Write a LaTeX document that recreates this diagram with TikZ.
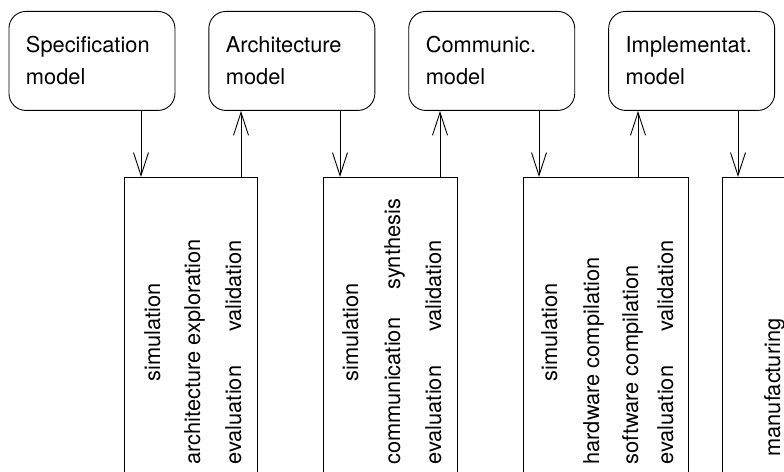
\documentclass[tikz,border=0pt]{standalone}
\usepackage{fontspec}
\setmainfont{TeX Gyre Heros}
\usetikzlibrary{arrows.meta,positioning}

\begin{document}
\begin{tikzpicture}[x=1bp,y=-1bp,node distance=33bp,>={Straight Barb[length=23bp,width=15bp]},line width=0.9bp,
model/.style={draw,rounded corners=17bp,align=left,text width=132bp,inner xsep=17bp,minimum height=99bp,font=\fontsize{21.9}{32}\selectfont},
stepbox/.style={draw,inner sep=0pt,minimum height=330bp,anchor=north west},
steptext/.style={rotate=90,anchor=base west,inner sep=0pt,font=\fontsize{21.9}{26}\selectfont}]
\useasboundingbox (0,0) rectangle (784,472);
\clip (0,0) rectangle (784,472);
\node[model,anchor=north west] (spec) at (8.5,11) {Specification\\model};
\node[model,right=of spec] (arch) {Architecture\\model};
\node[model,right=of arch] (comm) {Communic.\\model};
\node[model,right=of comm] (impl) {Implementat.\\model};
\node[stepbox,minimum width=133bp] (archstep) at (124,177) {};
\node[stepbox,minimum width=134bp] (commstep) at (323,177) {};
\node[stepbox,minimum width=165bp] (implstep) at (523,177) {};
\node[stepbox,minimum width=150bp] (mfgstep) at (722,177) {};
\node[steptext] (archsim) at (160,382) {simulation};
\node[steptext] (archexp) at (200,465) {architecture exploration};
\node[steptext] (archeval) at (241,465) {evaluation\hspace{34bp}validation};
\node[steptext] (commsim) at (358,382) {simulation};
\node[steptext] (commsyn) at (400,465) {communication\hspace{28bp}synthesis};
\node[steptext] (commeval) at (441,465) {evaluation\hspace{34bp}validation};
\node[steptext] (implsim) at (557,382) {simulation};
\node[steptext] (implhw) at (599,465) {hardware compilation};
\node[steptext] (implsw) at (638,465) {software compilation};
\node[steptext] (impleval) at (673,465) {evaluation\hspace{34bp}validation};
\node[steptext] (mfg) at (780,457) {manufacturing};
\foreach \from/\to/\x in {spec/archstep/141,arch/commstep/340,comm/implstep/539,impl/mfgstep/738}
  \draw[->] (\from.south -| \x,0) -- (\to.north -| \x,0);
\foreach \from/\to/\x in {archstep/arch/241,commstep/comm/440,implstep/impl/638}
  \draw[->] (\from.north -| \x,0) -- (\to.south -| \x,0);
\end{tikzpicture}
\end{document}
